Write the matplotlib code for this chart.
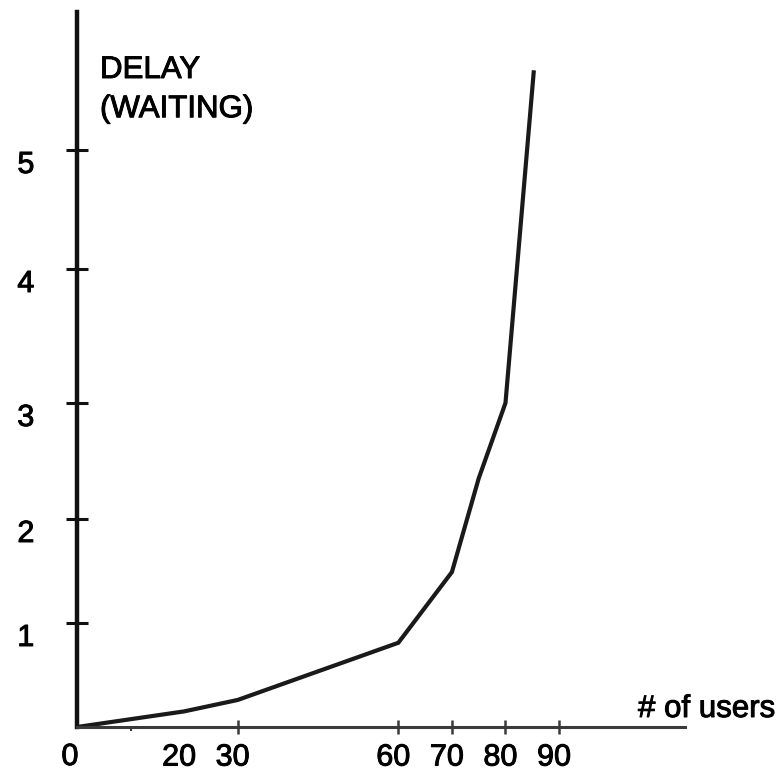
import numpy as np
import matplotlib
matplotlib.use("Agg")
import matplotlib.pyplot as plt
import matplotlib.patheffects as pe
from matplotlib.transforms import ScaledTranslation

plt.rcParams['font.family'] = ['Liberation Sans', 'DejaVu Sans']

# curve
Users = [0, 20, 30, 60, 70, 75, 80, 85.3]
Delay = [0, 0.15, 0.26, 0.81, 1.49, 2.35, 3.0, 5.67]

XTicks = [20, 30, 60, 70, 80, 90]
XTickLabels = ['20', '30', '60', '70', '80', '90']
YTicks = [1, 2, 3, 4, 5]
YTickLabels = ['1', '2', '3', '4', '5']

# the hand drawn y ticks are not evenly spaced, so map them piecewise
ScaleVals = [-1, 0, 1, 2, 3, 4, 5, 7]
ScalePx = [-104, 0, 104, 208, 324, 458, 577, 815]


def forward(v):
    return np.interp(v, ScaleVals, ScalePx)


def inverse(p):
    return np.interp(p, ScalePx, ScaleVals)


# scanned text looks a touch heavier than plain regular weight
heavy = [pe.withStroke(linewidth=0.7, foreground='black')]

fig = plt.figure(figsize=(7.8, 7.73), dpi=100)
ax = fig.add_axes([77 / 780, 46 / 773, 608 / 780, 715 / 773])

ax.plot(Users, Delay, color='#1a1a1a', linewidth=3.0, solid_joinstyle='miter',
        solid_capstyle='butt', clip_on=False)

ax.set_yscale('function', functions=(forward, inverse))
ax.set_xlim(0, 608 / 5.356)
ax.set_ylim(0, inverse(715))

for side in ['top', 'right']:
    ax.spines[side].set_visible(False)
ax.spines['left'].set_linewidth(3.2)
ax.spines['left'].set_color('#111111')
ax.spines['bottom'].set_linewidth(2.2)
ax.spines['bottom'].set_color('#3a3a3a')

ax.set_yticks(YTicks)
ax.set_yticklabels(YTickLabels, va='top')
ax.tick_params(axis='y', direction='inout', length=16.5, width=2.2,
               color='#111111', pad=22.5, labelsize=22)

ax.set_xticks(XTicks)
ax.set_xticklabels(XTickLabels)
ax.tick_params(axis='x', direction='inout', length=9.4, width=1.8,
               color='#3a3a3a', pad=6.5, labelsize=22)
ax.xaxis.get_major_ticks()[0].tick1line.set_visible(False)

ax.set_xticks([10], minor=True)
ax.tick_params(axis='x', which='minor', direction='out', length=3, width=1.5,
               color='#3a3a3a')

# labels sit a little left of the ticks in the drawing
shift = ScaledTranslation(-5 / 100, 0, fig.dpi_scale_trans)
for lab in ax.get_xticklabels():
    lab.set_transform(lab.get_transform() + shift)
    lab.set_path_effects(heavy)
for lab in ax.get_yticklabels():
    lab.set_path_effects(heavy)

fig.text(70 / 780, 1 - 765 / 773, '0', fontsize=22, ha='center',
         va='baseline', path_effects=heavy)
fig.text(100 / 780, 1 - 55 / 773, 'DELAY\n(WAITING)', fontsize=22.5,
         ha='left', va='top', linespacing=1.4, path_effects=heavy)
fig.text(638 / 780, 1 - 717 / 773, '# of users', fontsize=22.5,
         ha='left', va='baseline', path_effects=heavy)

fig.savefig('out.png', dpi=100)
